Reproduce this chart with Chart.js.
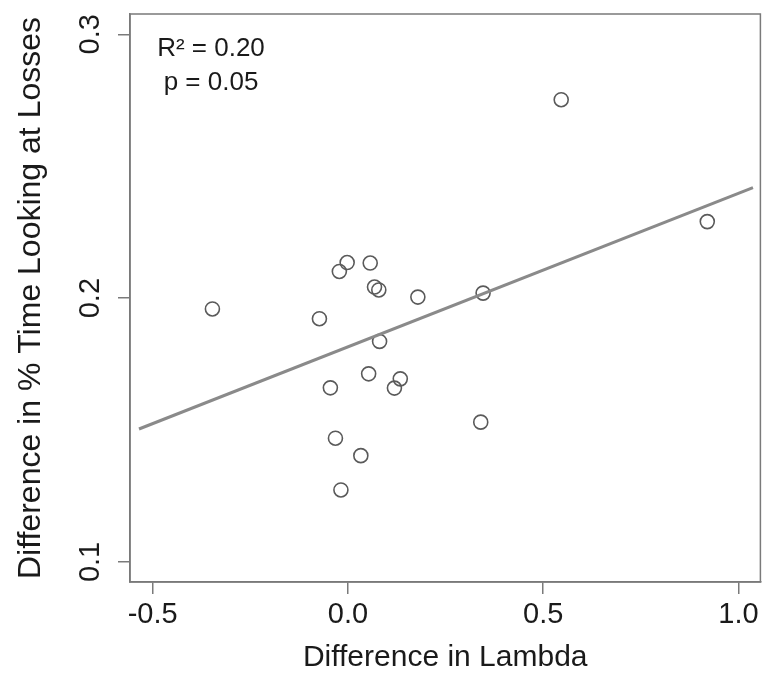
<!DOCTYPE html>
<html>
<head>
<meta charset="utf-8">
<script src="https://cdn.jsdelivr.net/npm/chart.js@4/dist/chart.umd.min.js"></script>
<style>
  html, body { margin: 0; padding: 0; background: #ffffff; }
  canvas { display: block; }
</style>
</head>
<body>
<canvas id="c" width="769" height="677"></canvas>
<script>
// ---- data ----
const lambdaDiff = [-0.002, -0.022, 0.057, 0.068, 0.079, 0.179, 0.346, -0.073, 0.081, 0.053,
                    -0.045, 0.134, 0.119, 0.340, -0.032, 0.033, -0.018, -0.347, 0.546, 0.920];
const lossTimeDiff = [0.2135, 0.2101, 0.2133, 0.2042, 0.2031, 0.2004, 0.2019, 0.1922, 0.1836, 0.1713,
                      0.1660, 0.1694, 0.1659, 0.1530, 0.1469, 0.1403, 0.1273, 0.1959, 0.2752, 0.2290];
const fitX = [-0.535, 1.037];
const fitY = [0.1504, 0.2419];
const xTickValues = [-0.5, 0.0, 0.5, 1.0];
const xTickLabels = ["-0.5", "0.0", "0.5", "1.0"];
const yTickValues = [0.1, 0.2, 0.3];
const yTickLabels = ["0.1", "0.2", "0.3"];
const annotationLines = ["R\u00B2 = 0.20", "p = 0.05"];
const xTitle = "Difference in Lambda";
const yTitle = "Difference in % Time Looking at Losses";

const FONT = "'Liberation Sans', Arial, Helvetica, sans-serif";
const TEXT = "#1a1a1a";
const AXIS = "#7a7a7a";

const points = lambdaDiff.map((x, i) => ({ x: x, y: lossTimeDiff[i] }));
const fitLine = fitX.map((x, i) => ({ x: x, y: fitY[i] }));

const boxPlugin = {
  id: 'boxAndNotes',
  afterDraw(chart) {
    const { ctx, chartArea: a } = chart;
    ctx.save();
    ctx.strokeStyle = AXIS;
    ctx.lineWidth = 1.5;
    ctx.strokeRect(a.left, a.top, a.right - a.left, a.bottom - a.top);
    ctx.fillStyle = TEXT;
    ctx.font = "26px " + FONT;
    ctx.textAlign = "center";
    ctx.textBaseline = "middle";
    ctx.fillText(annotationLines[0], a.left + 81, a.top + 35);
    ctx.fillText(annotationLines[1], a.left + 81, a.top + 69);
    ctx.restore();
  }
};

new Chart(document.getElementById('c'), {
  type: 'scatter',
  data: {
    datasets: [
      {
        type: 'line',
        data: fitLine,
        borderColor: '#8a8a8a',
        borderWidth: 3,
        pointRadius: 0,
        fill: false,
        tension: 0,
        order: 0
      },
      {
        data: points,
        pointStyle: 'circle',
        pointRadius: 7,
        pointBorderWidth: 1.6,
        pointBorderColor: '#5a5a5a',
        pointBackgroundColor: 'rgba(0,0,0,0)',
        borderColor: '#5a5a5a',
        backgroundColor: 'rgba(0,0,0,0)',
        showLine: false,
        order: 1
      }
    ]
  },
  options: {
    responsive: false,
    animation: false,
    events: [],
    layout: { padding: { top: 14, right: 6, left: 0, bottom: 0 } },
    plugins: { legend: { display: false }, tooltip: { enabled: false } },
    scales: {
      x: {
        type: 'linear',
        min: -0.558,
        max: 1.056,
        afterBuildTicks(scale) { scale.ticks = xTickValues.map(v => ({ value: v })); },
        afterFit(scale) { scale.height = 95; scale.paddingLeft = 0; scale.paddingRight = 0; },
        ticks: {
          autoSkip: false,
          maxRotation: 0,
          minRotation: 0,
          padding: 4,
          color: TEXT,
          font: { family: FONT, size: 29, lineHeight: 1.2 },
          callback(value, index) { return xTickLabels[index]; }
        },
        grid: { display: true, drawOnChartArea: false, drawTicks: true, tickLength: 12, tickColor: AXIS, lineWidth: 1.5 },
        border: { display: true, color: AXIS, width: 1.5 },
        title: {
          display: true,
          text: xTitle,
          color: TEXT,
          font: { family: FONT, size: 30, lineHeight: 1.2 },
          padding: { top: 0, bottom: 1 }
        }
      },
      y: {
        type: 'linear',
        min: 0.0924,
        max: 0.3077,
        afterBuildTicks(scale) { scale.ticks = yTickValues.map(v => ({ value: v })); },
        afterFit(scale) { scale.width = 130; scale.paddingTop = 0; scale.paddingBottom = 0; },
        ticks: {
          autoSkip: false,
          minRotation: 90,
          maxRotation: 90,
          crossAlign: 'center',
          padding: 7,
          color: TEXT,
          font: { family: FONT, size: 29, lineHeight: 1.2 },
          callback(value, index) { return yTickLabels[index]; }
        },
        grid: { display: true, drawOnChartArea: false, drawTicks: true, tickLength: 12, tickColor: AXIS, lineWidth: 1.5 },
        border: { display: true, color: AXIS, width: 1.5 },
        title: {
          display: true,
          text: yTitle,
          color: TEXT,
          font: { family: FONT, size: 32, lineHeight: 1.2 },
          padding: { top: 12, bottom: 0 }
        }
      }
    }
  },
  plugins: [boxPlugin]
});
</script>
</body>
</html>
